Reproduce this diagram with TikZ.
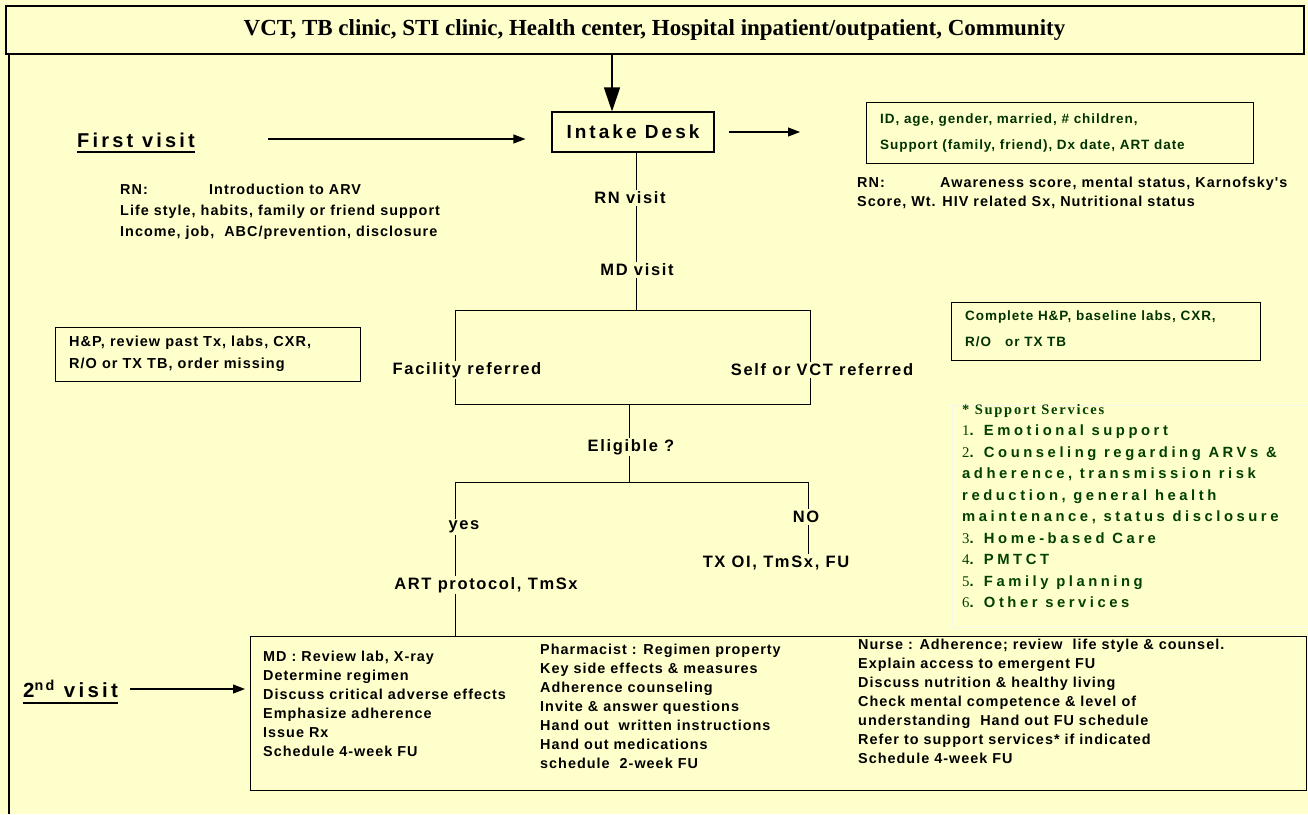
\documentclass[tikz,border=0pt]{standalone}
\usepackage{fontspec}
\setmainfont{Liberation Sans}
\newfontfamily\bodyfam{Liberation Sans}[LetterSpace=7]
\newfontfamily\labfam{Liberation Sans}[LetterSpace=10]
\newfontfamily\bigfam{Liberation Sans}[LetterSpace=16]
\newfontfamily\suppfam{Liberation Sans}[LetterSpace=24]
\newfontfamily\headfam{Liberation Serif}
\newfontfamily\suppserif{Liberation Serif}[LetterSpace=12]
\usetikzlibrary{arrows.meta}
\definecolor{bgyellow}{HTML}{FFFFCC}
\definecolor{dgreen}{HTML}{003300}
\definecolor{sgreen}{HTML}{004000}
\definecolor{paleline}{HTML}{F6F6EC}
\newcommand{\bodyf}{\bodyfam\bfseries\fontsize{14.4}{19}\selectfont}
\newcommand{\labf}{\labfam\bfseries\fontsize{16.5}{19}\selectfont}
\newcommand{\greenf}{\bodyfam\bfseries\fontsize{13.5}{26}\selectfont}
\newcommand{\suppf}{\suppfam\bfseries\fontsize{14.8}{21.5}\selectfont}
\newcommand{\sn}[1]{{\headfam\mdseries #1}}
\tikzset{
  txt/.style={font=\bodyf, inner sep=0pt, align=left},
  lbl/.style={font=\labf, inner sep=1.5pt},
  boxed/.style={draw=black, line width=1.1pt, inner sep=0pt},
  ln/.style={draw=black, line width=1pt},
  arr/.style={draw=black, line width=1.1pt, -{Triangle[length=12pt,width=9pt]}},
  bigarr/.style={draw=black, line width=1.3pt, -{Triangle[length=24pt,width=16pt]}},
  uline/.style={line width=2.6pt}
}
\begin{document}
\begin{tikzpicture}[x=1pt,y=-1pt]
\fill[bgyellow] (0,0) rectangle (1308,814);
\useasboundingbox (0,0) rectangle (1308,814);

% header and frame
\node[draw=black, line width=2pt, minimum width=1298pt, minimum height=48pt, inner sep=0pt,
      font=\headfam\bfseries\fontsize{23}{26}\selectfont] (header) at (654.5,30)
  {VCT, TB clinic, STI clinic, Health center, Hospital inpatient/outpatient, Community};
\coordinate (fb) at (9,814);
\draw[line width=2pt] (header.south -| fb) -- (fb);

% intake desk
\node[boxed, minimum width=162pt, minimum height=40pt, font=\bigfam\bfseries\fontsize{19}{22}\selectfont] (intake) at (633,132) {Intake Desk};
\coordinate (dtop) at (612,54);
\draw[bigarr] (header.south -| dtop) -- (intake.north -| dtop);

% first visit
\node[font=\bigfam\bfseries\fontsize{20}{22}\selectfont, inner sep=0pt, anchor=west] (fv) at (77,140) {First visit};
\draw[uline] ([yshift=-5pt]fv.base west) -- ([yshift=-5pt]fv.base east);
\draw[arr, shorten <=73pt, shorten >=26pt] (fv.east |- 0,139) coordinate (fva) -- (intake.west |- fva);

% ID box
\node[boxed, minimum width=387pt, minimum height=61pt, anchor=north west] (idbox) at (866,102) {};
\node[txt, font=\greenf, text=dgreen, anchor=north west] (idtxt) at (880,114)
  {ID, age, gender, married, \# children,\\Support (family, friend), Dx date, ART date};
\draw[arr, shorten <=14pt, shorten >=66pt] (intake.east) -- (intake.east -| idbox.west);

% RN left
\node[txt, anchor=north west, font=\bodyfam\bfseries\fontsize{14.4}{21}\selectfont] (rnleft) at (120,184)
  {\makebox[89pt][l]{RN:}Introduction to ARV\\
   Life style, habits, family or friend support\\
   Income, job,\ \ ABC/prevention, disclosure};

% RN right
\node[txt, anchor=north west] (rnright) at (857,177)
  {\makebox[83pt][l]{RN:}Awareness score, mental status, Karnofsky's\\
   Score, Wt. HIV related Sx, Nutritional status};

% spine labels
\coordinate (c1) at (636,0);
\coordinate (c2) at (629,0);
\node[lbl] (rnv) at (630,198) {RN visit};
\node[lbl] (mdv) at (637,270) {MD visit};
\draw[ln] (intake.south -| c1) -- (rnv.north -| c1);
\draw[ln] (rnv.south -| c1) -- (mdv.north -| c1);

% first bracket
\coordinate (b1l) at (455,310);
\coordinate (b1r) at (810,310);
\node[lbl] (fac) at (467,370) {Facility referred};
\node[lbl] (self) at (822,370) {Self or VCT referred};
\draw[ln] (mdv.south -| c1) -- (c1 |- b1l);
\draw[ln] (fac.north -| b1l) -- (b1l) -- (b1r) -- (self.north -| b1r);

% second bracket
\coordinate (b2l) at (455,404);
\coordinate (b2r) at (810,404);
\draw[ln] (fac.south -| b2l) -- (b2l) -- (b2r) -- (self.south -| b2r);
\node[lbl] (elig) at (631,447) {Eligible ?};
\draw[ln] (c2 |- b2l) -- (elig.north -| c2);

% third bracket
\coordinate (b3l) at (455,482);
\coordinate (b3r) at (808,482);
\draw[ln] (elig.south -| c2) -- (c2 |- b3l);
\node[lbl] (yes) at (464,527) {yes};
\node[lbl] (no) at (806,517) {NO};
\node[lbl] (art) at (486,585) {ART protocol, TmSx};
\node[lbl] (txoi) at (776,563) {TX OI, TmSx, FU};
\draw[ln] (yes.north -| b3l) -- (b3l) -- (b3r) -- (no.north -| b3r);
\draw[ln] (yes.south -| b3l) -- (art.north -| b3l);
\draw[ln] (no.south -| b3r) -- (txoi.north -| b3r);

% H&P box
\node[boxed, minimum width=305pt, minimum height=54pt, anchor=north west] (hpbox) at (55,327) {};
\node[txt, font=\bodyfam\bfseries\fontsize{14.5}{22}\selectfont, anchor=north west] (hptxt) at (69,336)
  {H\&P, review past Tx, labs, CXR,\\R/O or TX TB, order missing};

% Complete H&P box
\node[boxed, minimum width=309pt, minimum height=58pt, anchor=north west] (cbox) at (951,302) {};
\node[txt, font=\greenf, text=dgreen, anchor=north west] (ctxt) at (965,311)
  {Complete H\&P, baseline labs, CXR,\\R/O\ \ \ or TX TB};

% support services
\node[draw=paleline, line width=1.2pt, minimum width=358pt, minimum height=222pt, anchor=north west, inner sep=0pt] (sbox) at (952,405) {};
\node[txt, font=\suppf, text=sgreen, anchor=north west] (stxt) at (962,404)
  {{\suppserif\bfseries\fontsize{14.5}{21.5}\selectfont * Support Services}\\
   \sn{1}. Emotional support\\
   \sn{2}. Counseling regarding ARVs \&\\
   adherence, transmission risk\\
   reduction, general health\\
   maintenance, status disclosure\\
   \sn{3}. Home-based Care\\
   \sn{4}. PMTCT\\
   \sn{5}. Family planning\\
   \sn{6}. Other services};

% bottom box
\node[boxed, minimum width=1056pt, minimum height=154pt, anchor=north west] (bbox) at (250,636) {};
\draw[ln] (art.south -| b3l) -- (bbox.north -| b3l);
\node[txt, anchor=north west] (mdcol) at (263,651)
  {MD : Review lab, X-ray\\Determine regimen\\Discuss critical adverse effects\\Emphasize adherence\\Issue Rx\\Schedule 4-week FU};
\node[txt, anchor=north west] (phcol) at (540,644)
  {Pharmacist : Regimen property\\Key side effects \& measures\\Adherence counseling\\Invite \& answer questions\\Hand out\ \ written instructions\\Hand out medications\\schedule\ \ 2-week FU};
\node[txt, anchor=north west] (nucol) at (858,639)
  {Nurse : Adherence; review\ \ life style \& counsel.\\Explain access to emergent FU\\Discuss nutrition \& healthy living\\Check mental competence \& level of\\understanding\ \ Hand out FU schedule\\Refer to support services* if indicated\\Schedule 4-week FU};

% second visit
\node[font=\bigfam\bfseries\fontsize{20.5}{22}\selectfont, inner sep=0pt, anchor=west] (sv) at (23,689) {2\textsuperscript{nd} visit};
\draw[uline] ([yshift=-5pt]sv.base west) -- ([yshift=-5pt]sv.base east);
\draw[arr, shorten <=12pt, shorten >=5pt] (sv.east) -- (sv.east -| bbox.west);
\end{tikzpicture}
\end{document}
